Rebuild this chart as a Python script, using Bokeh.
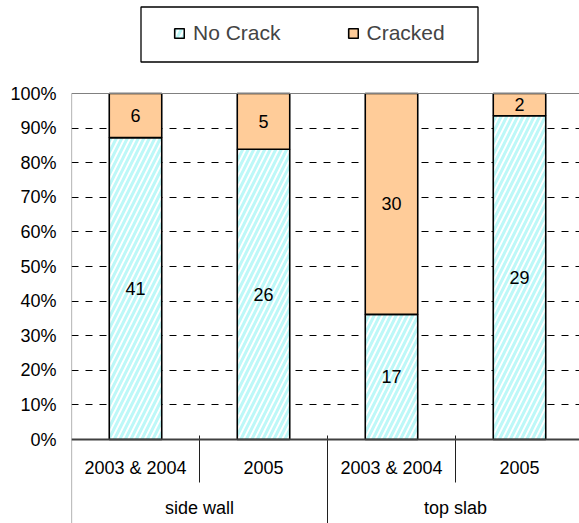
from bokeh.plotting import figure
from bokeh.models import (Range1d, FixedTicker, PrintfTickFormatter, Span, Legend,
                          LegendItem, BoxAnnotation, ColumnDataSource)
from bokeh.core.properties import value
from bokeh.embed import file_html
from bokeh.resources import INLINE

# ---- data ----
groups = ["side wall", "top slab"]
categories = ["2003 & 2004", "2005", "2003 & 2004", "2005"]
no_crack = [41, 26, 17, 29]
cracked = [6, 5, 30, 2]
y_ticks = [0, 10, 20, 30, 40, 50, 60, 70, 80, 90, 100]

# ---- layout helpers (figure pixel -> data) ----
FIG_W, FIG_H = 579, 523
FRAME_LEFT_PX = 71
CAT_PX = 128.0
Y100_PX = 93.0
PX_PER_PCT = 3.46


def dx(px):
    return (px - FRAME_LEFT_PX) / CAT_PX


def dy(py):
    return 100 - (py - Y100_PX) / PX_PER_PCT


FONT = value("Liberation Sans")

totals = [a + b for a, b in zip(no_crack, cracked)]
pct_nc = [a / t * 100 for a, t in zip(no_crack, totals)]
pct_cr = [b / t * 100 for b, t in zip(cracked, totals)]
xs = [i + 0.5 for i in range(len(categories))]

src = ColumnDataSource(dict(
    x=xs, nc=pct_nc, top=[100.0] * len(xs),
    nc_mid=[v / 2 for v in pct_nc],
    cr_mid=[n + c / 2 for n, c in zip(pct_nc, pct_cr)],
    nc_lab=[str(v) for v in no_crack],
    cr_lab=[str(v) for v in cracked],
))

p = figure(width=FIG_W, height=FIG_H, output_backend="svg", toolbar_location=None,
           x_range=Range1d(0, dx(FIG_W)),
           y_range=Range1d(dy(FIG_H), dy(0)),
           min_border_left=FRAME_LEFT_PX, min_border_right=0, min_border_top=0,
           min_border_bottom=0)
p.outline_line_color = None
p.xaxis.visible = False
p.xgrid.visible = False

# y axis
ax = p.yaxis[0]
ax.ticker = FixedTicker(ticks=y_ticks)
ax.formatter = PrintfTickFormatter(format="%d%%")
ax.axis_line_color = None
ax.major_tick_out = 0
ax.major_tick_in = 0
ax.minor_tick_line_color = None
ax.major_label_standoff = 15
ax.major_label_text_font = "Liberation Sans"
ax.major_label_text_font_size = "18px"
ax.major_label_text_color = "black"

p.ygrid.ticker = FixedTicker(ticks=y_ticks[1:-1])
p.ygrid.grid_line_color = "black"
p.ygrid.grid_line_dash = "7 7"
p.ygrid.grid_line_width = 1

# bars
BAR_W = 0.41
r_nc = p.vbar(x="x", bottom=0, top="nc", width=BAR_W, source=src,
              fill_color="white", hatch_pattern="/", hatch_color="#bdf8f8",
              hatch_weight=3, hatch_scale=11, line_color="black", line_width=1.6)
r_cr = p.vbar(x="x", bottom="nc", top="top", width=BAR_W, source=src,
              fill_color="#FFCC99", line_color="black", line_width=1.6)

p.text(x="x", y="nc_mid", text="nc_lab", source=src, text_align="center",
       text_baseline="middle", text_font=FONT, text_font_size="18px", text_color="black")
p.text(x="x", y="cr_mid", text="cr_lab", source=src, text_align="center",
       text_baseline="middle", text_font=FONT, text_font_size="18px", text_color="black")

# plot border lines
p.add_layout(Span(location=100, dimension="width", line_color="#808080", line_width=1))
p.add_layout(Span(location=0, dimension="width", line_color="#404040", line_width=2))
p.segment(x0=[0], y0=[dy(FIG_H)], x1=[0], y1=[100], line_color="#808080", line_width=1.2)

# category axis (two levels)
p.text(x=xs, y=[dy(467)] * len(xs), text=categories, text_align="center",
       text_baseline="middle", text_font=FONT, text_font_size="18px", text_color="black")
grp_x = [1.0, 3.0]
p.text(x=grp_x, y=[dy(507)] * len(grp_x), text=groups, text_align="center",
       text_baseline="middle", text_font=FONT, text_font_size="18px", text_color="black")
p.segment(x0=[1, 3], y0=[dy(435)] * 2, x1=[1, 3], y1=[dy(482)] * 2,
          line_color="#202020", line_width=1)
p.segment(x0=[2], y0=[dy(435)], x1=[2], y1=[dy(FIG_H)],
          line_color="#202020", line_width=1)

# legend
box = BoxAnnotation(left=dx(140.5), right=dx(477.5), top=dy(6.5), bottom=dy(61.5),
                    fill_alpha=0, line_color="black", line_alpha=1.0, line_width=1.3)
p.add_layout(box)
legend = Legend(items=[LegendItem(label="No Crack", renderers=[r_nc]),
                       LegendItem(label="Cracked", renderers=[r_cr])],
                orientation="horizontal", location=(173 - FRAME_LEFT_PX, FIG_H - 45),
                border_line_color=None, background_fill_alpha=0,
                padding=0, margin=0, spacing=66, label_standoff=8,
                glyph_width=12, glyph_height=12, label_height=24,
                label_text_font="Liberation Sans", label_text_font_size="21px")
p.add_layout(legend)

open("out.html", "w").write(file_html(p, INLINE))
